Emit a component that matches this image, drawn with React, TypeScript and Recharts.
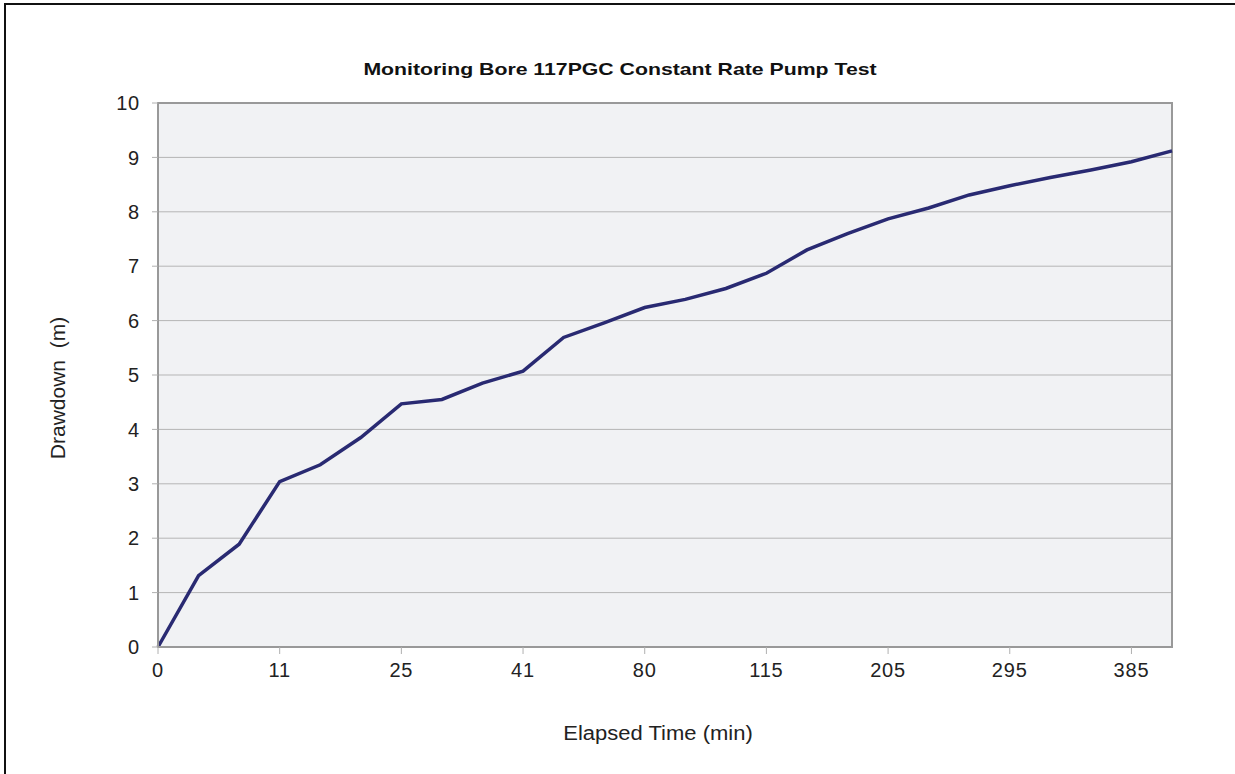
import React from 'react'
import { LineChart, Line, XAxis, YAxis, CartesianGrid, ReferenceArea } from 'recharts'

// elapsed time categories (min) - only every third one is labelled on the chart
const times = ['0', '4', '7', '11', '15', '20', '25', '30', '35', '41', '50', '65', '80', '90', '100', '115', '145', '175', '205', '235', '265', '295', '325', '355', '385', '415']
// drawdown (m)
const drawdown = [0, 1.31, 1.89, 3.04, 3.35, 3.85, 4.47, 4.55, 4.85, 5.07, 5.69, 5.96, 6.24, 6.39, 6.59, 6.87, 7.3, 7.6, 7.87, 8.07, 8.31, 8.48, 8.63, 8.77, 8.92, 9.12]
const yTicks = [0, 1, 2, 3, 4, 5, 6, 7, 8, 9, 10]

const data = times.map((t, i) => ({ t, d: drawdown[i] }))

const font = '"Liberation Sans", Arial, sans-serif'
const tickStyle = { fontSize: 20, fill: '#222', fontFamily: font, letterSpacing: 0.8 }

export default function App() {
  return (
    <div style={{ position: 'absolute', left: 0, top: 0, width: 1235, height: 774, background: '#fff', fontFamily: font }}>
      <div
        style={{
          position: 'absolute',
          left: 4,
          top: 3,
          width: 1229,
          height: 769,
          borderLeft: '2px solid #111',
          borderTop: '2px solid #111',
        }}
      />
      <div
        style={{
          position: 'absolute',
          left: 620,
          top: 70,
          transform: 'translate(-50%, -50%) scaleX(1.25)',
          whiteSpace: 'pre',
          fontWeight: 'bold',
          fontSize: 17,
          color: '#111',
        }}
      >
        Monitoring Bore 117PGC Constant Rate Pump Test
      </div>
      <div style={{ position: 'absolute', left: 0, top: 0 }}>
        <LineChart width={1235} height={774} data={data} margin={{ top: 103, right: 63, left: 98, bottom: 87 }}>
          <CartesianGrid vertical={false} horizontal fill="#f1f2f4" stroke="#b5b5b5" />
          <XAxis
            dataKey="t"
            interval={2}
            height={40}
            tick={tickStyle}
            tickSize={7}
            tickMargin={9}
            tickLine={{ stroke: '#b0b0b0' }}
            axisLine={{ stroke: '#999', strokeWidth: 2 }}
          />
          <YAxis
            domain={[0, 10]}
            ticks={yTicks}
            width={60}
            tick={tickStyle}
            tickSize={6}
            tickMargin={12}
            tickLine={{ stroke: '#b0b0b0' }}
            axisLine={{ stroke: '#999', strokeWidth: 2 }}
          />
          <ReferenceArea x1="0" x2="415" y1={0} y2={10} fill="none" stroke="#999" strokeWidth={2} ifOverflow="visible" />
          <Line type="linear" dataKey="d" stroke="#292a72" strokeWidth={3.5} dot={false} isAnimationActive={false} />
        </LineChart>
      </div>
      <div
        style={{
          position: 'absolute',
          left: 58,
          top: 388,
          transform: 'translate(-50%, -50%) rotate(-90deg) scaleX(1.05)',
          whiteSpace: 'pre',
          fontSize: 20,
          color: '#222',
        }}
      >
        {'Drawdown  (m)'}
      </div>
      <div
        style={{
          position: 'absolute',
          left: 658,
          top: 733,
          transform: 'translate(-50%, -50%) scaleX(1.1)',
          whiteSpace: 'pre',
          fontSize: 20,
          color: '#222',
        }}
      >
        Elapsed Time (min)
      </div>
    </div>
  )
}
